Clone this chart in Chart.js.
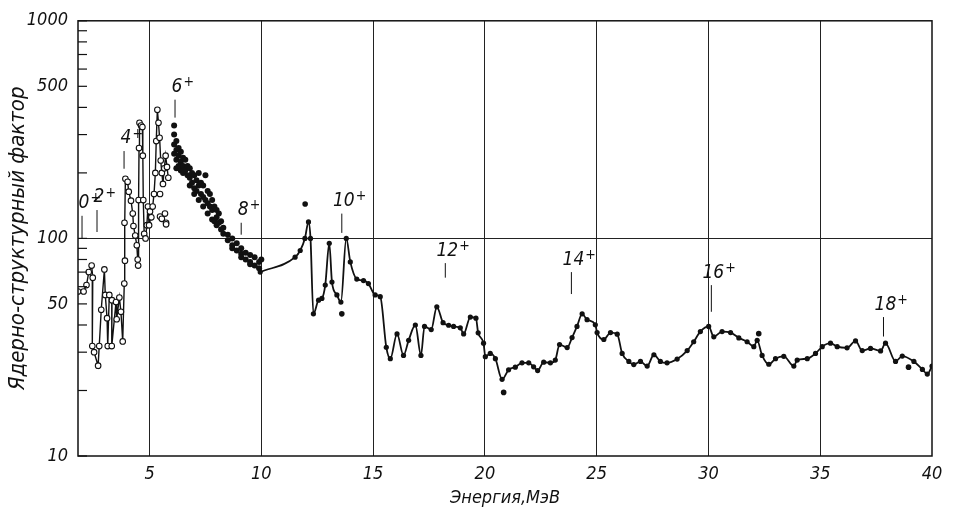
<!DOCTYPE html>
<html>
<head>
<meta charset="utf-8">
<script src="https://cdn.jsdelivr.net/npm/chart.js@4.4.1/dist/chart.umd.min.js"></script>
<style>
  html, body { margin: 0; padding: 0; background: #fff; }
  #wrap { width: 953px; height: 512px; }
</style>
</head>
<body>
<div id="wrap"><canvas id="factorChart"></canvas></div>
<script>
// low energy part, open circles joined by a line (energy MeV, factor)
var openX = [1.8, 2.05, 2.18, 2.28, 2.41, 2.46, 2.44, 2.52, 2.7, 2.75, 2.84, 2.98, 3.02, 3.1, 3.13, 3.2, 3.32, 3.31, 3.5, 3.53, 3.65, 3.72, 3.8, 3.87, 3.9, 3.88, 3.92, 4.02, 4.07, 4.17, 4.25, 4.28, 4.36, 4.43, 4.47, 4.49, 4.51, 4.53, 4.55, 4.62, 4.68, 4.7, 4.72, 4.76, 4.82, 4.88, 4.93, 4.98, 5.02, 5.08, 5.14, 5.2, 5.26, 5.3, 5.35, 5.4, 5.45, 5.5, 5.55, 5.6, 5.66, 5.72, 5.78, 5.84];
var openY = [57, 57, 61, 70, 75, 66, 32, 30, 26, 32, 47, 72, 55, 43, 32, 55, 52, 32, 51, 42.5, 53.5, 46, 33.6, 62, 79, 118, 188, 182, 164, 149, 130, 114, 103, 93, 80, 75, 150, 260, 340, 330, 325, 240, 150, 105, 100, 115, 140, 115, 133, 125, 140, 160, 200, 280, 390, 340, 290, 228, 200, 178, 210, 240, 213, 190];
// loose open circles
var openLoneX = [5.47, 5.47, 5.55, 5.69, 5.74, 5.74];
var openLoneY = [160, 126, 123, 130, 118, 116];

// filled points, 6 - 10 MeV
var cloudX = [6.1, 6.1, 6.1, 6.1, 6.2, 6.2, 6.2, 6.2, 6.3, 6.3, 6.3, 6.4, 6.4, 6.4, 6.5, 6.5, 6.5, 6.6, 6.6, 6.7, 6.7, 6.8, 6.8, 6.8, 6.9, 6.9, 7.0, 7.0, 7.0, 7.1, 7.1, 7.2, 7.2, 7.2, 7.3, 7.3, 7.4, 7.4, 7.4, 7.5, 7.5, 7.6, 7.6, 7.6, 7.7, 7.7, 7.8, 7.8, 7.8, 7.9, 7.9, 8.0, 8.0, 8.0, 8.1, 8.1, 8.2, 8.2, 8.3, 8.3, 8.5, 8.5, 8.7, 8.7, 8.7, 8.9, 8.9, 9.1, 9.1, 9.1, 9.3, 9.3, 9.5, 9.5, 9.5, 9.7, 9.7, 9.9, 9.9, 10.0];
var cloudY = [330, 300, 270, 245, 280, 255, 230, 210, 260, 240, 215, 250, 225, 205, 235, 215, 200, 230, 205, 215, 195, 210, 190, 175, 200, 180, 195, 170, 160, 185, 165, 200, 175, 150, 180, 160, 175, 155, 140, 195, 150, 165, 145, 130, 160, 140, 150, 135, 122, 140, 120, 135, 125, 115, 130, 118, 120, 110, 112, 105, 104, 98, 100, 93, 90, 95, 88, 90, 85, 82, 86, 80, 84, 78, 76, 82, 75, 78, 73, 80];

// smooth curve with points, 10 - 40 MeV
var curveX = [9.95, 11.51, 11.74, 11.95, 12.11, 12.2, 12.33, 12.56, 12.71, 12.86, 13.04, 13.16, 13.38, 13.56, 13.8, 13.98, 14.27, 14.57, 14.79, 15.09, 15.32, 15.59, 15.77, 16.07, 16.36, 16.59, 16.89, 17.14, 17.3, 17.6, 17.85, 18.13, 18.38, 18.6, 18.9, 19.05, 19.35, 19.6, 19.7, 19.94, 20.02, 20.24, 20.47, 20.77, 21.06, 21.36, 21.66, 21.96, 22.18, 22.36, 22.63, 22.93, 23.15, 23.34, 23.68, 23.9, 24.12, 24.35, 24.57, 24.94, 25.02, 25.32, 25.62, 25.92, 26.14, 26.44, 26.66, 26.96, 27.26, 27.56, 27.85, 28.15, 28.6, 29.05, 29.34, 29.64, 30.01, 30.24, 30.61, 30.99, 31.36, 31.73, 32.03, 32.18, 32.4, 32.7, 33.0, 33.37, 33.82, 33.97, 34.42, 34.79, 35.09, 35.46, 35.76, 36.2, 36.58, 36.88, 37.25, 37.7, 37.92, 38.37, 38.67, 39.19, 39.57, 39.79, 40.0];
var curveY = [70, 82, 88, 100, 119, 100, 45, 52, 53, 61, 95, 63, 55, 51, 100, 78, 65, 64, 62, 55, 54, 31.6, 28, 36.4, 29, 34, 40, 29, 39.4, 38.1, 48.5, 41, 39.9, 39.4, 38.8, 36.4, 43.5, 43, 36.8, 33, 28.6, 29.6, 28, 22.5, 24.9, 25.6, 26.8, 26.8, 25.7, 24.7, 27, 26.8, 27.6, 32.5, 31.5, 35, 39.4, 45, 42.3, 40.1, 36.9, 34.3, 36.9, 36.3, 29.6, 27.2, 26.3, 27.2, 25.9, 29.2, 27.2, 26.8, 27.9, 30.5, 33.5, 37.3, 39.4, 35.3, 37.3, 36.9, 34.9, 33.5, 31.8, 34, 29, 26.4, 28, 28.7, 25.9, 27.6, 28, 29.6, 31.8, 33, 31.8, 31.4, 33.8, 30.5, 31.2, 30.4, 33, 27.2, 28.8, 27.2, 25, 23.8, 25.9];

// isolated filled points
var loneX = [11.96, 13.6, 20.84, 32.25, 38.95];
var loneY = [144, 45, 19.6, 36.5, 25.6];

// level marks (spin label, energy, bottom and top of the mark)
var levelNames = ['0', '2', '4', '6', '8', '10', '12', '14', '16', '18'];
var levelX = [1.98, 2.65, 3.86, 6.14, 9.1, 13.6, 18.23, 23.87, 30.13, 37.83];
var levelLow = [100, 107, 209, 359, 104, 106, 66, 55.5, 46, 35.4];
var levelHigh = [127, 135, 252, 434, 118, 130, 77, 70, 61, 43.5];

var xTicks = [5, 10, 15, 20, 25, 30, 35, 40];
var yTicks = [10, 20, 30, 40, 50, 60, 70, 80, 90, 100, 200, 300, 400, 500, 600, 700, 800, 900, 1000];
var yLabelled = [10, 50, 100, 500, 1000];

var fontFamily = "'DejaVu Sans Condensed', 'DejaVu Sans', sans-serif";
var ink = '#111';

function pairs(xs, ys) {
    return xs.map(function (x, i) { return { x: x, y: ys[i] }; });
}

var paperPlugin = {
    id: 'paper',
    afterDraw: function (chart) {
        var ctx = chart.ctx;
        var a = chart.chartArea;
        var xs = chart.scales.x, ys = chart.scales.y;
        ctx.save();
        ctx.strokeStyle = ink;
        ctx.lineWidth = 1.5;
        ctx.strokeRect(a.left, a.top, a.right - a.left, a.bottom - a.top);

        // short ticks inside the left frame
        ctx.lineWidth = 1.2;
        yTicks.forEach(function (v) {
            var py = ys.getPixelForValue(v);
            ctx.beginPath();
            ctx.moveTo(a.left, py);
            ctx.lineTo(a.left + 9, py);
            ctx.stroke();
        });

        // level marks with spin labels
        ctx.fillStyle = ink;
        ctx.lineWidth = 1;
        levelNames.forEach(function (name, i) {
            var px = xs.getPixelForValue(levelX[i]);
            var top = ys.getPixelForValue(levelHigh[i]);
            var bottom = ys.getPixelForValue(levelLow[i]);
            ctx.beginPath();
            ctx.moveTo(px, bottom);
            ctx.lineTo(px, top);
            ctx.stroke();
            ctx.font = 'italic 19px ' + fontFamily;
            ctx.textAlign = 'center';
            ctx.textBaseline = 'bottom';
            var w = ctx.measureText(name).width;
            ctx.fillText(name, px + 2, top - 3);
            ctx.font = 'italic 14px ' + fontFamily;
            ctx.textAlign = 'left';
            ctx.fillText('+', px + 3 + w / 2, top - 10);
        });
        ctx.restore();
    }
};

var ctx = document.getElementById('factorChart').getContext('2d');
var factorChart = new Chart(ctx, {
    type: 'scatter',
    data: {
        datasets: [
            {
                label: 'curve',
                data: pairs(curveX, curveY),
                showLine: true,
                borderColor: ink,
                borderWidth: 1.8,
                cubicInterpolationMode: 'monotone',
                pointRadius: 2.6,
                pointBackgroundColor: ink,
                pointBorderColor: ink,
                pointBorderWidth: 0,
            },
            {
                label: 'cloud',
                data: pairs(cloudX, cloudY),
                showLine: false,
                pointRadius: 3,
                pointBackgroundColor: ink,
                pointBorderColor: ink,
                pointBorderWidth: 0,
            },
            {
                label: 'lone',
                data: pairs(loneX, loneY),
                showLine: false,
                pointRadius: 2.8,
                pointBackgroundColor: ink,
                pointBorderColor: ink,
                pointBorderWidth: 0,
            },
            {
                label: 'open',
                data: pairs(openX, openY),
                showLine: true,
                borderColor: ink,
                borderWidth: 1.4,
                tension: 0,
                pointRadius: 2.8,
                pointBackgroundColor: '#fff',
                pointBorderColor: ink,
                pointBorderWidth: 1.1,
            },
            {
                label: 'open lone',
                data: pairs(openLoneX, openLoneY),
                showLine: false,
                pointRadius: 2.8,
                pointBackgroundColor: '#fff',
                pointBorderColor: ink,
                pointBorderWidth: 1.1,
            },
        ],
    },
    options: {
        responsive: true,
        maintainAspectRatio: false,
        animation: false,
        layout: {
            padding: { left: 0, right: 21, top: 15, bottom: 0 },
        },
        scales: {
            x: {
                type: 'linear',
                min: 1.8,
                max: 40,
                afterBuildTicks: function (scale) {
                    scale.ticks = xTicks.map(function (v) { return { value: v }; });
                },
                afterFit: function (scale) {
                    scale.height = 56;
                },
                ticks: {
                    autoSkip: false,
                    maxRotation: 0,
                    padding: 8,
                    color: ink,
                    font: { family: fontFamily, size: 18, style: 'italic' },
                },
                grid: {
                    drawTicks: false,
                    lineWidth: 1,
                    color: function (c) {
                        return c.tick && c.tick.value < 40 ? '#222' : 'rgba(0,0,0,0)';
                    },
                },
                border: { display: false },
                title: {
                    display: true,
                    text: 'Энергия,МэВ',
                    color: ink,
                    font: { family: fontFamily, size: 18, style: 'italic' },
                    padding: { top: 0, bottom: 3 },
                },
            },
            y: {
                type: 'logarithmic',
                min: 10,
                max: 1000,
                afterBuildTicks: function (scale) {
                    scale.ticks = yTicks.map(function (v) { return { value: v }; });
                },
                afterFit: function (scale) {
                    scale.width = 78;
                },
                ticks: {
                    autoSkip: false,
                    padding: 10,
                    color: ink,
                    font: { family: fontFamily, size: 18, style: 'italic' },
                    callback: function (value) {
                        return yLabelled.indexOf(value) >= 0 ? String(value) : '';
                    },
                },
                grid: {
                    drawTicks: false,
                    lineWidth: 1,
                    color: function (c) {
                        return c.tick && c.tick.value === 100 ? '#222' : 'rgba(0,0,0,0)';
                    },
                },
                border: { display: false },
                title: {
                    display: true,
                    text: 'Ядерно-структурный фактор',
                    color: ink,
                    font: { family: fontFamily, size: 22, style: 'italic' },
                    padding: { top: 5, bottom: 0 },
                },
            },
        },
        plugins: {
            legend: { display: false },
            tooltip: { enabled: false },
        },
    },
    plugins: [paperPlugin],
});
</script>
</body>
</html>
